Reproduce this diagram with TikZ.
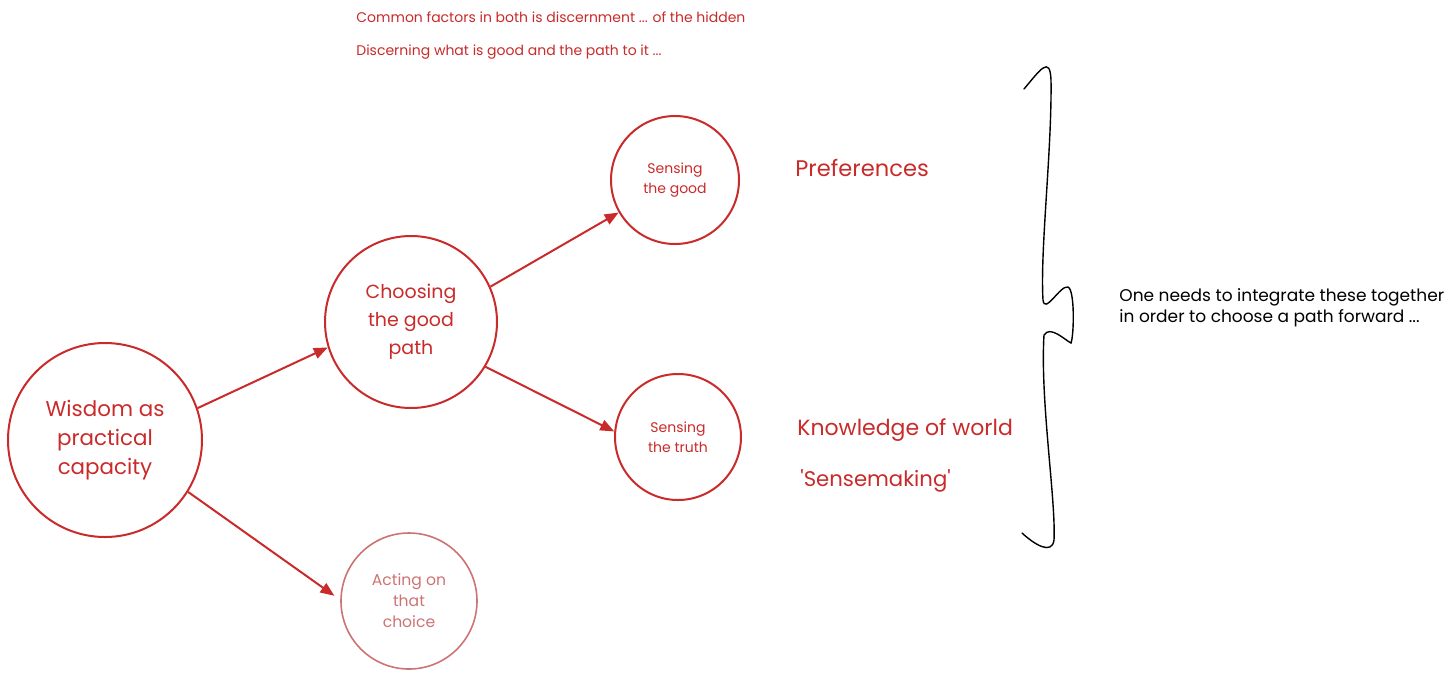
\documentclass[tikz,border=0pt]{standalone}
\usepackage{fontspec}
\setmainfont{Poppins}
\usetikzlibrary{arrows.meta}
\definecolor{exred}{HTML}{C92A2A}
\definecolor{exfade}{HTML}{CC7474}
\tikzset{
  circ/.style={circle, draw=exred, line width=1pt, text=exred, align=center, inner sep=0pt},
  conn/.style={draw=exred, line width=1pt, -{Triangle[length=7pt,width=5.5pt]}},
  lbl/.style={text=exred, anchor=west, inner sep=0pt},
  note/.style={text=black, anchor=west, inner sep=0pt, align=left},
}
\begin{document}
\begin{tikzpicture}[x=0.5pt,y=-0.5pt]
\useasboundingbox (0,0) rectangle (1456,676);
\node[circ, minimum size=97pt, font=\fontsize{10.7}{14.5}\selectfont] (wis) at (105,440) {Wisdom as\\practical\\capacity};
\node[circ, minimum size=86pt, font=\fontsize{9.5}{14}\selectfont] (cho) at (411,322) {Choosing\\the good\\path};
\node[circ, minimum size=68pt, draw=exfade, text=exfade, line width=0.8pt, font=\fontsize{7.8}{10.5}\selectfont] (act) at (409,601) {Acting on\\that\\choice};
\node[circ, minimum size=64pt, font=\fontsize{7}{10}\selectfont] (sg) at (675,180) {Sensing\\the good};
\node[circ, minimum size=63pt, font=\fontsize{7}{10}\selectfont] (st) at (678,437) {Sensing\\the truth};
\draw[conn] (wis.19) -- (cho.197);
\draw[conn] (wis.-32) -- ([shift={(176:3pt)}]act.176);
\draw[conn] (cho.24) -- (sg.210);
\draw[conn] (cho.-31) -- (st.175);
\node[lbl, font=\fontsize{7}{8}\selectfont] (t1) at (356,17) {Common factors in both is discernment ... of the hidden};
\node[lbl, font=\fontsize{7}{8}\selectfont] (t2) at (356,52) {Discerning what is good and the path to it ...};
\node[lbl, font=\fontsize{11.3}{13}\selectfont] (pref) at (795,168) {Preferences};
\node[lbl, font=\fontsize{11}{13}\selectfont] (know) at (797,430) {Knowledge of world};
\node[lbl, font=\fontsize{10.6}{13}\selectfont] (sense) at (800,481) {\textquotesingle Sensemaking\textquotesingle};
\node[note, font=\fontsize{8.5}{10.5}\selectfont] (int) at (1119,308) {One needs to integrate these together\\in order to choose a path forward ...};
\draw[black, line width=0.7pt, line cap=round]
 (1024,89) .. controls (1040,70) and (1050,55) .. (1051,80)
 .. controls (1052,150) and (1040,250) .. (1043,300)
 .. controls (1045,315) and (1060,285) .. (1068,287)
 .. controls (1075,290) and (1074,335) .. (1071,343)
 .. controls (1065,340) and (1050,325) .. (1044,335)
 .. controls (1040,400) and (1056,500) .. (1054,540)
 .. controls (1052,555) and (1035,545) .. (1022,533);
\end{tikzpicture}
\end{document}
